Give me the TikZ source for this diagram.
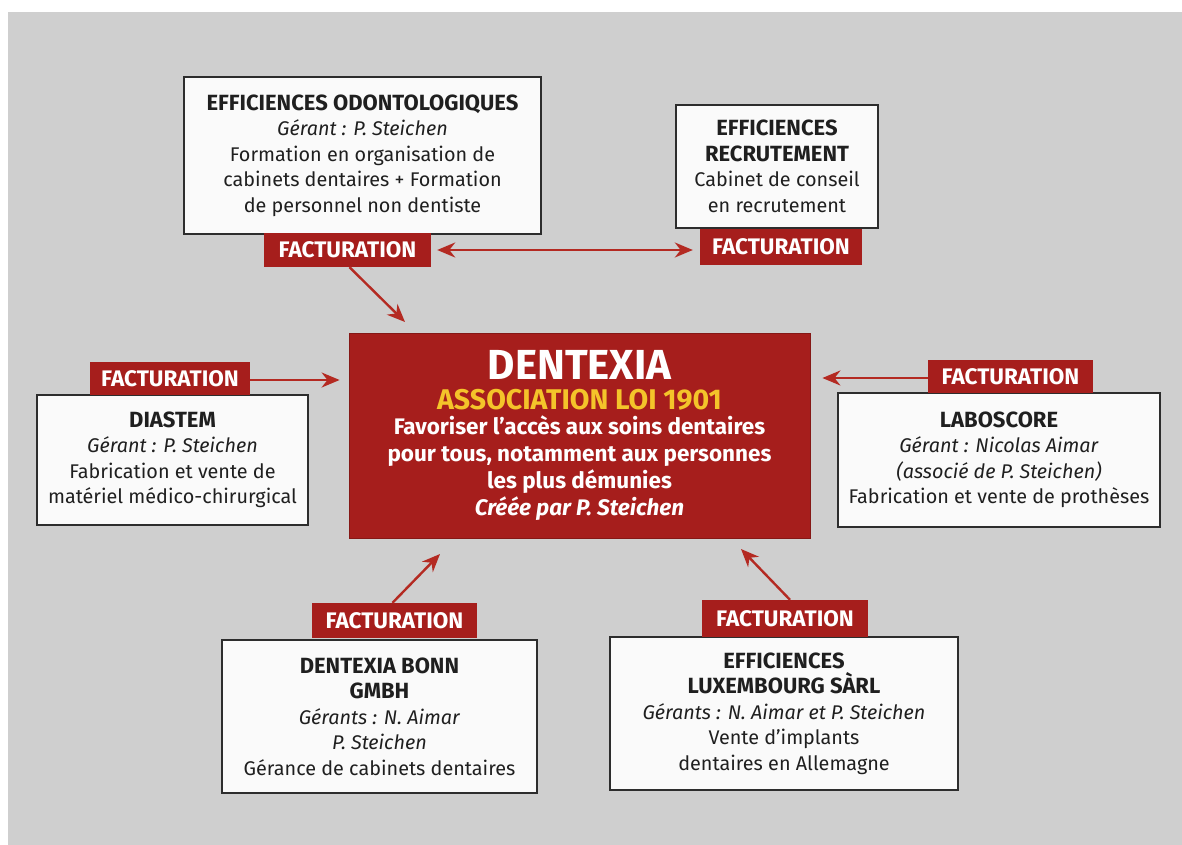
\documentclass[tikz,border=0pt]{standalone}
\usepackage{fontspec}
\setmainfont{Fira Sans}
\usetikzlibrary{arrows.meta}
\definecolor{bggray}{RGB}{207,207,207}
\definecolor{dred}{RGB}{166,30,28}
\definecolor{ared}{RGB}{180,42,34}
\definecolor{ayellow}{RGB}{244,196,42}
\definecolor{boxfill}{RGB}{250,250,250}
\definecolor{boxline}{RGB}{45,45,45}
\newcommand{\ttl}[1]{{\bfseries\fontsize{22}{25.5}\selectfont #1}}
\begin{document}
\begin{tikzpicture}[x=1pt,y=-1pt,
  entbox/.style={draw=boxline, line width=1.6pt, fill=boxfill, align=center, inner sep=0pt,
    font=\fontsize{19.8}{25.5}\selectfont, text=black!88},
  fact/.style={fill=dred, text=white, inner sep=0pt,
    font=\bfseries\fontsize{22.5}{23}\selectfont},
  flow/.style={draw=ared, line width=2.4pt, -{Stealth[length=18pt,width=15pt]}},
  biflow/.style={draw=ared, line width=2.4pt, {Stealth[length=18pt,width=15pt]}-{Stealth[length=18pt,width=15pt]}}
]
\useasboundingbox (0,0) rectangle (1182,845);
\fill[white] (0,0) rectangle (1182,845);
\fill[bggray] (8,12) rectangle (1182,845);

% company boxes
\node[entbox, minimum width=357pt, minimum height=157pt] (eo) at (362.5,155.5)
  {\ttl{EFFICIENCES ODONTOLOGIQUES}\\\textit{Gérant : P. Steichen}\\Formation en organisation de\\cabinets dentaires + Formation\\de personnel non dentiste};
\node[entbox, minimum width=202pt, minimum height=123pt] (er) at (777,166.5)
  {\ttl{EFFICIENCES}\\\ttl{RECRUTEMENT}\\Cabinet de conseil\\en recrutement};
\node[entbox, minimum width=271pt, minimum height=130pt] (dia) at (172.5,460)
  {\ttl{DIASTEM}\\\textit{Gérant : P. Steichen}\\Fabrication et vente de\\matériel médico-chirurgical};
\node[entbox, minimum width=322pt, minimum height=134pt] (lab) at (999,460)
  {\ttl{LABOSCORE}\\\textit{Gérant : Nicolas Aimar}\\\textit{(associé de P. Steichen)}\\Fabrication et vente de prothèses};
\node[entbox, minimum width=315pt, minimum height=153pt] (db) at (379.5,716.5)
  {\ttl{DENTEXIA BONN}\\\ttl{GMBH}\\\textit{Gérants : N. Aimar}\\\textit{P. Steichen}\\Gérance de cabinets dentaires};
\node[entbox, minimum width=348pt, minimum height=153pt] (el) at (784,713.5)
  {\ttl{EFFICIENCES}\\\ttl{LUXEMBOURG SÀRL}\\\textit{Gérants : N. Aimar et P. Steichen}\\Vente d’implants\\dentaires en Allemagne};

% central box
\node[fill=dred, draw=dred!80!black, line width=0.8pt, minimum width=461pt, minimum height=205pt,
  inner sep=0pt, align=center, text=white, font=\bfseries\fontsize{22.5}{27}\selectfont] (cen) at (579.5,435.5)
  {{\fontsize{42}{44}\selectfont DENTEXIA}\\[3pt]
   {\color{ayellow}\fontsize{28.5}{30}\selectfont ASSOCIATION LOI 1901}\\[-2pt]
   Favoriser l’accès aux soins dentaires\\
   pour tous, notamment aux personnes\\
   les plus démunies\\
   \textit{Créée par P. Steichen}};

% FACTURATION labels
\node[fact, minimum width=167pt, minimum height=34pt] (f1) at (347.5,250) {FACTURATION};
\node[fact, minimum width=162pt, minimum height=36pt] (f2) at (781,247) {FACTURATION};
\node[fact, minimum width=160pt, minimum height=33pt] (f3) at (170,378.5) {FACTURATION};
\node[fact, minimum width=165pt, minimum height=33pt] (f4) at (1010.5,376.5) {FACTURATION};
\node[fact, minimum width=165pt, minimum height=35pt] (f5) at (394.5,620.5) {FACTURATION};
\node[fact, minimum width=166pt, minimum height=37pt] (f6) at (785,618.5) {FACTURATION};

% arrow tips
\coordinate (t1) at (405,322);
\coordinate (t5) at (440,554);
\coordinate (t6) at (741,549);

% connectors
\draw[biflow, shorten <=6pt, shorten >=7pt] (f1.east) -- (f1.east -| f2.west);
\draw[flow] ([xshift=2pt]f1.south) -- (t1);
\draw[flow, shorten >=9pt] ([yshift=-1.5pt]f3.east) -- ([yshift=-1.5pt]f3.east -| cen.west);
\draw[flow, shorten >=12pt] ([yshift=-1.5pt]f4.west) -- ([yshift=-1.5pt]f4.west -| cen.east);
\draw[flow] ([xshift=-2pt]f5.north) -- (t5);
\draw[flow] ([xshift=5pt]f6.north) -- (t6);
\end{tikzpicture}
\end{document}
